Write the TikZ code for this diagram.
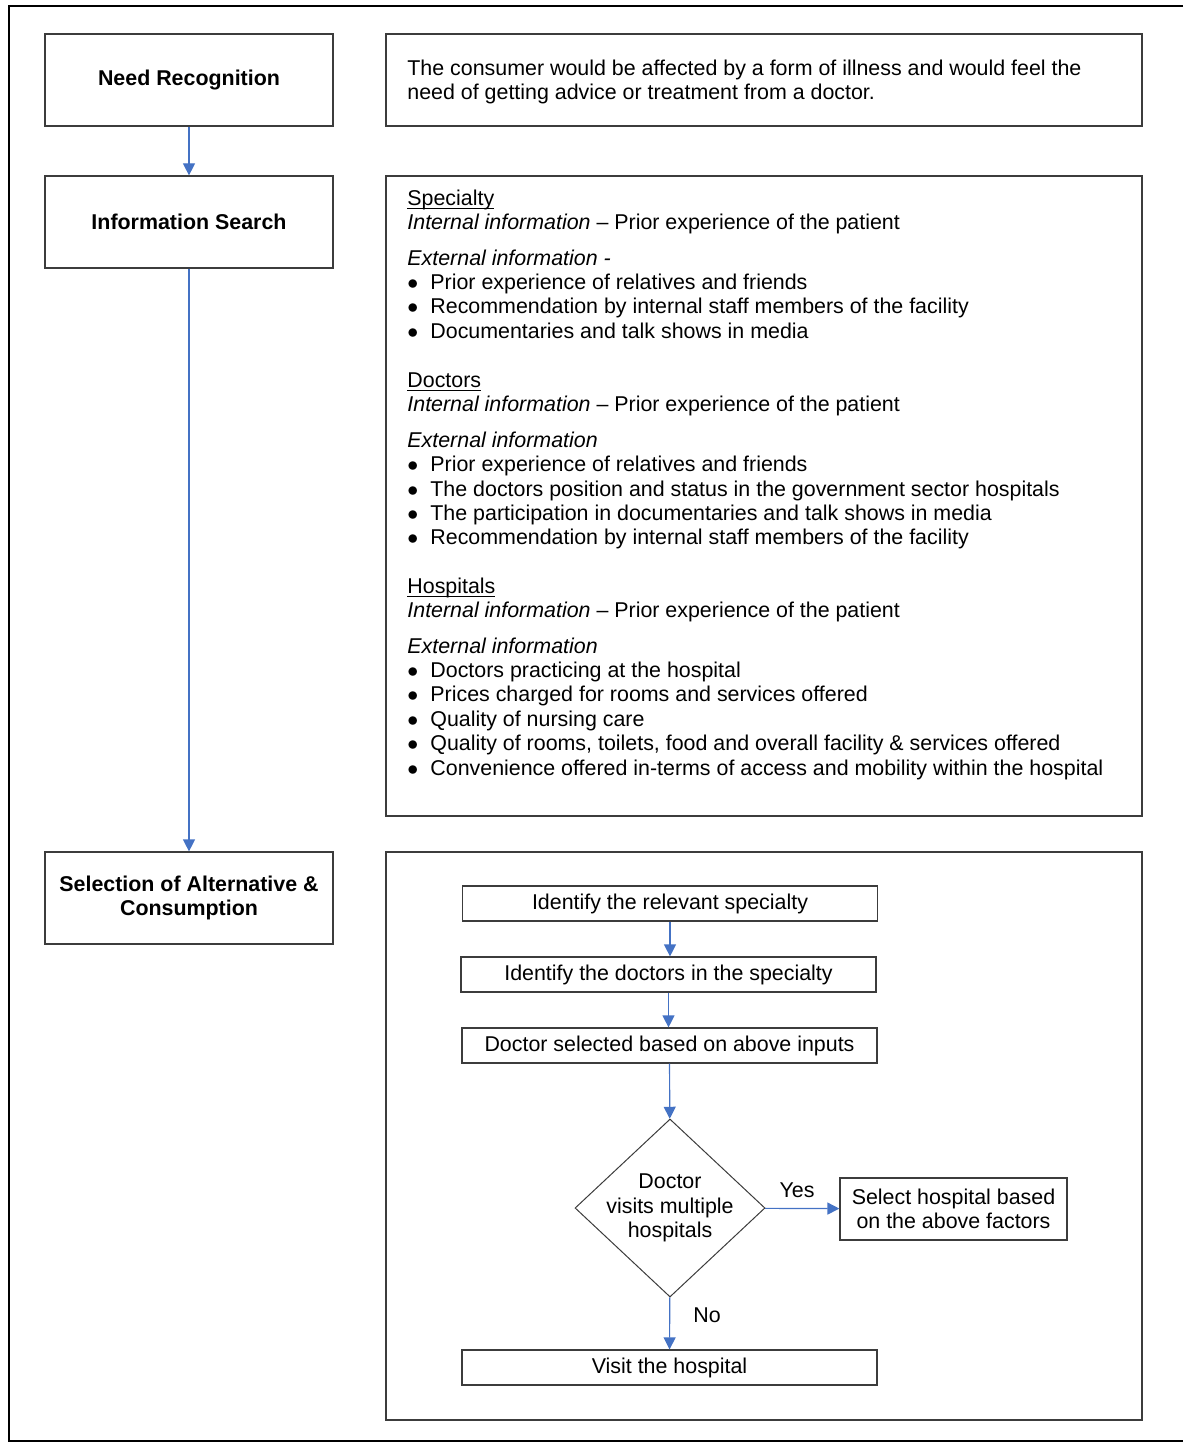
\documentclass[tikz,border=0pt]{standalone}
\usepackage{fontspec}
\setmainfont{Liberation Sans}
\usetikzlibrary{shapes.geometric,arrows.meta}
\definecolor{flowblue}{RGB}{68,114,196}
\definecolor{boxgray}{RGB}{60,60,60}
\newcommand{\bul}{\makebox[11.5pt][l]{$\bullet$}}
\newcommand{\heading}[1]{\underline{\smash{#1}}}

\tikzset{
  stage/.style={draw=boxgray, line width=0.6pt, minimum width=144pt, minimum height=46pt,
    font=\bfseries, align=center, inner sep=0pt},
  panel/.style={draw=boxgray, line width=0.6pt, minimum width=378pt, inner sep=0pt},
  stepbox/.style={draw=boxgray, line width=0.6pt, minimum width=207.5pt, minimum height=17.5pt,
    inner sep=0pt},
  txt/.style={anchor=mid west, inner sep=0pt},
  flow/.style={draw=flowblue, line width=0.6pt, -{Triangle[width=6pt,length=6pt]}},
}

\begin{document}
\fontsize{10.7}{12.2}\selectfont
\begin{tikzpicture}[x=0.5pt,y=-0.5pt]
\useasboundingbox (0,0) rectangle (1183,1443);
\draw[line width=0.9pt] (1183,6) -- (9,6) -- (9,1441) -- (1183,1441);

% stages
\node[stage] (need) at (189,80) {Need Recognition};
\node[stage] (search) at (189,222) {Information Search};
\node[stage] (choice) at (189,898) {Selection of Alternative \&\\Consumption};

% panels
\node[panel, minimum height=46pt] (needpanel) at (764,80) {};
\node[panel, minimum height=320pt] (searchpanel) at (764,496) {};
\node[panel, minimum height=284pt] (choicepanel) at (764,1136) {};

\node[anchor=west, inner sep=0pt, align=left] (needtxt) at (407,82)
  {The consumer would be affected by a form of illness and would feel the\\need of getting advice or treatment from a doctor.};

% information search
\node[txt] (spec) at (407,200) {\heading{Specialty}};
\node[txt] (specint) at (407,224) {\textit{Internal information} \textendash\ Prior experience of the patient};
\node[txt] (specext) at (407,260) {\textit{External information -}};
\node[txt] (speca) at (407,284) {\bul Prior experience of relatives and friends};
\node[txt] (specb) at (407,308) {\bul Recommendation by internal staff members of the facility};
\node[txt] (specc) at (407,333) {\bul Documentaries and talk shows in media};

\node[txt] (doc) at (407,382) {\heading{Doctors}};
\node[txt] (docint) at (407,406) {\textit{Internal information} \textendash\ Prior experience of the patient};
\node[txt] (docext) at (407,442) {\textit{External information}};
\node[txt] (doca) at (407,466) {\bul Prior experience of relatives and friends};
\node[txt] (docb) at (407,491) {\bul The doctors position and status in the government sector hospitals};
\node[txt] (docc) at (407,515) {\bul The participation in documentaries and talk shows in media};
\node[txt] (docd) at (407,539) {\bul Recommendation by internal staff members of the facility};

\node[txt] (hosp) at (407,588) {\heading{Hospitals}};
\node[txt] (hospint) at (407,612) {\textit{Internal information} \textendash\ Prior experience of the patient};
\node[txt] (hospext) at (407,648) {\textit{External information}};
\node[txt] (hospa) at (407,672) {\bul Doctors practicing at the hospital};
\node[txt] (hospb) at (407,696) {\bul Prices charged for rooms and services offered};
\node[txt] (hospc) at (407,721) {\bul Quality of nursing care};
\node[txt] (hospd) at (407,745) {\bul Quality of rooms, toilets, food and overall facility \& services offered};
\node[txt] (hospe) at (407,770) {\bul Convenience offered in-terms of access and mobility within the hospital};

% selection flow
\node[stepbox] (relspec) at (670,903.5) {Identify the relevant specialty};
\node[stepbox] (finddoc) at (668.5,974.5) {Identify the doctors in the specialty};
\node[stepbox] (pickdoc) at (669.5,1045.5) {Doctor selected based on above inputs};
\node[draw=boxgray, line width=0.5pt, shape=diamond, aspect=1.067, inner sep=-6pt,
  minimum width=95pt, minimum height=89pt, align=center] (multi) at (670,1208)
  {Doctor\\visits multiple\\hospitals};
\node[stepbox, minimum width=113.5pt, minimum height=31pt, align=center] (pickhosp) at (953.5,1209)
  {Select hospital based\\on the above factors};
\node[stepbox] (visit) at (669.5,1367.5) {Visit the hospital};

\draw[flow] (need) -- (search);
\draw[flow] (search) -- (choice);
\draw[flow] (relspec.south) -- (relspec.south |- finddoc.north);
\draw[flow] (finddoc.south) -- (finddoc.south |- pickdoc.north);
\draw[flow] (pickdoc) -- (multi);
\draw[flow] (multi) -- node[above, pos=0.43, yshift=1.5pt] (yes) {Yes} (pickhosp);
\draw[flow] (multi) -- node[right, pos=0.34, xshift=8pt] (no) {No} (visit);
\end{tikzpicture}
\end{document}
